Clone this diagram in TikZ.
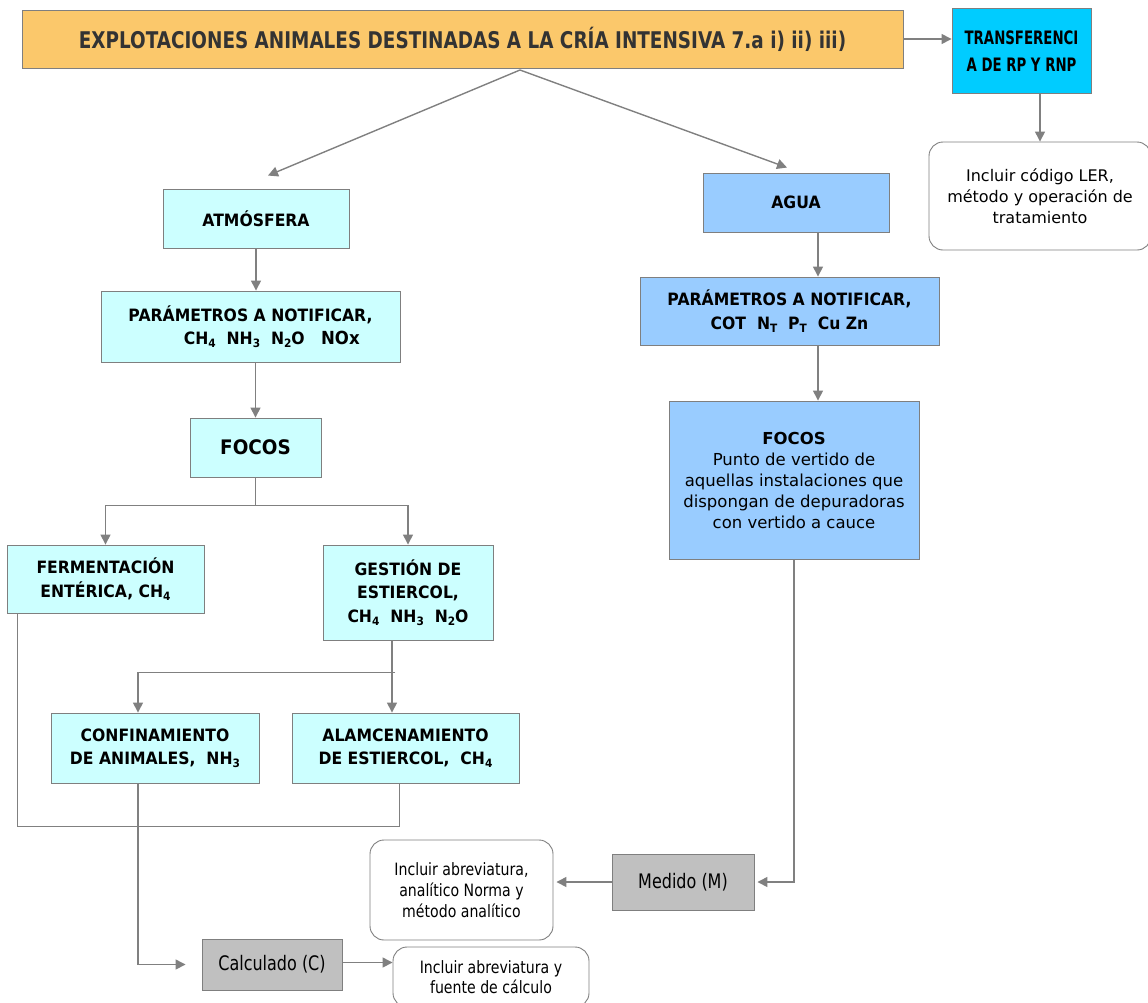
\documentclass[tikz,border=0pt]{standalone}
\usepackage{fontspec}
\setmainfont{DejaVu Sans}
\newfontfamily\condf[FakeStretch=0.72]{DejaVu Sans}
\newfontfamily\midf[FakeStretch=0.8]{DejaVu Sans}
\newfontfamily\nrwf[FakeStretch=0.83]{DejaVu Sans}
\newfontfamily\semif[FakeStretch=0.92]{DejaVu Sans}
\usetikzlibrary{arrows.meta,calc}
\definecolor{gold}{HTML}{FBC86B}
\definecolor{cyanb}{HTML}{00CCFF}
\definecolor{lcyan}{HTML}{CCFFFF}
\definecolor{lblue}{HTML}{99CCFF}
\definecolor{gbox}{HTML}{C0C0C0}
\definecolor{bord}{HTML}{7F7F7F}
\definecolor{arrg}{HTML}{808080}
\definecolor{dtext}{HTML}{333333}
\newcommand\sbs[1]{\raisebox{-0.3ex}{\fontsize{11.5}{11.5}\selectfont #1}}
\tikzset{
  box/.style={draw=bord, line width=0.9pt, align=center, inner sep=2pt},
  lbox/.style={box, fill=lcyan, font=\semif\bfseries\fontsize{17}{23.5}\selectfont},
  bbox/.style={box, fill=lblue, font=\semif\bfseries\fontsize{17}{23.5}\selectfont},
  gbx/.style={box, fill=gbox, font=\midf\fontsize{20}{24}\selectfont},
  note/.style={box, fill=white, rounded corners=14pt},
  arr/.style={draw=arrg, line width=1.4pt, -{Triangle[length=10pt,width=10pt]}},
  ln/.style={draw=arrg, line width=1pt},
}
\begin{document}
\begin{tikzpicture}[x=1pt,y=-1pt]
\useasboundingbox (0,0) rectangle (1148,1002);
% top
\node[box, fill=gold, text=dtext, minimum width=881, minimum height=58, font=\midf\bfseries\fontsize{23}{26}\selectfont] (title) at (462.5,39) {EXPLOTACIONES ANIMALES DESTINADAS A LA CRÍA INTENSIVA 7.a i) ii) iii)};
\node[box, fill=cyanb, minimum width=139, minimum height=85, font=\condf\bfseries\fontsize{18.5}{27}\selectfont] (transf) at (1021.5,51) {TRANSFERENCI\\A DE RP Y RNP};
\node[note, minimum width=222, minimum height=108, font=\fontsize{16}{21}\selectfont] (ler) at (1040,196) {Incluir código LER,\\método y operación de\\tratamiento};
\draw[arr] (title.east) -- (title.east -| transf.west);
\draw[arr] (transf.south -| ler.north) -- (ler.north);
% split
\coordinate (ts) at (520,70);
\node[lbox, minimum width=186, minimum height=59] (atm) at (256,218.5) {ATMÓSFERA};
\node[bbox, minimum width=186, minimum height=59] (agua) at (796,202.5) {AGUA};
\draw[arr] (ts) -- ([shift={(12,-13)}]atm.north);
\draw[arr] (ts) -- ([shift={(-9,-5)}]agua.north);
% left branch
\node[lbox, minimum width=299, minimum height=71] (parL) at (250.5,326.5) {PARÁMETROS A NOTIFICAR,\\\hspace*{2.5em}CH\sbs{4}\ \ NH\sbs{3}\ \ N\sbs{2}O\ \ \ {\fontsize{18}{23}\selectfont NOx}};
\node[lbox, minimum width=131, minimum height=59, font=\semif\bfseries\fontsize{20}{23}\selectfont] (focL) at (255.5,447.5) {FOCOS};
\draw[arr] (atm.south) -- (atm.south |- parL.north);
\draw[arr] (focL.north |- parL.south) -- (focL.north);
\node[lbox, minimum width=197, minimum height=68] (ferm) at (105.5,579) {FERMENTACIÓN\\ENTÉRICA, CH\sbs{4}};
\node[lbox, minimum width=170, minimum height=95] (gest) at (408,592.5) {GESTIÓN DE\\ESTIERCOL,\\CH\sbs{4}\ \ NH\sbs{3}\ \ N\sbs{2}O};
\draw[arr] (focL.south) -- ++(0,28) -| (ferm.north);
\draw[arr] (focL.south) -- ++(0,28) -| (gest.north);
\node[lbox, minimum width=208, minimum height=70] (conf) at (155,748) {CONFINAMIENTO\\DE ANIMALES,\ \ NH\sbs{3}};
\node[lbox, minimum width=227, minimum height=70] (alm) at (405.5,748) {ALAMCENAMIENTO\\DE ESTIERCOL,\ \ CH\sbs{4}};
\draw[arr] ([xshift=-16]gest.south) -- ([xshift=-16]gest.south |- alm.north);
\draw[arr] ($([xshift=-16]gest.south)+(3,32)$) -| ([xshift=-17]conf.north);
\draw[ln] ([xshift=-88.5]ferm.south) |- ([shift={(-6.5,43)}]alm.south) -- ([xshift=-6.5]alm.south);
% bottom
\node[gbx, minimum width=140, minimum height=51] (calc) at (272,964.5) {Calculado (C)};
\node[note, minimum width=196, minimum height=60, font=\nrwf\fontsize{17}{20}\selectfont] (incC) at (491,977) {Incluir abreviatura y\\fuente de cálculo};
\draw[arr] ([xshift=-17]conf.south) |- ([xshift=-16]calc.west);
\draw[arr] ([yshift=2]calc.east) -- ([yshift=2]calc.east -| incC.west);
\node[gbx, minimum width=142, minimum height=56] (med) at (683,882) {Medido (M)};
\node[note, minimum width=183, minimum height=100, font=\nrwf\fontsize{17}{21}\selectfont] (incM) at (461.5,890) {Incluir abreviatura,\\analítico Norma y\\método analítico};
\draw[arr] (med.west) -- ([xshift=3]incM.east |- med.west);
% right branch
\coordinate (ax) at (818,0);
\node[bbox, minimum width=299, minimum height=68] (parR) at (789.5,311) {PARÁMETROS A NOTIFICAR,\\COT\ \ N\sbs{T}\ \ P\sbs{T}\ \ Cu Zn};
\node[bbox, minimum width=250, minimum height=158, font=\fontsize{16.5}{21}\selectfont] (focR) at (794,480) {\textbf{FOCOS}\\Punto de vertido de\\aquellas instalaciones que\\dispongan de depuradoras\\con vertido a cauce};
\draw[arr] (agua.south -| ax) -- (parR.north -| ax);
\draw[arr] (parR.south -| ax) -- (focR.north -| ax);
\draw[arr] (focR.south) |- ([xshift=3]med.east);
\end{tikzpicture}
\end{document}
